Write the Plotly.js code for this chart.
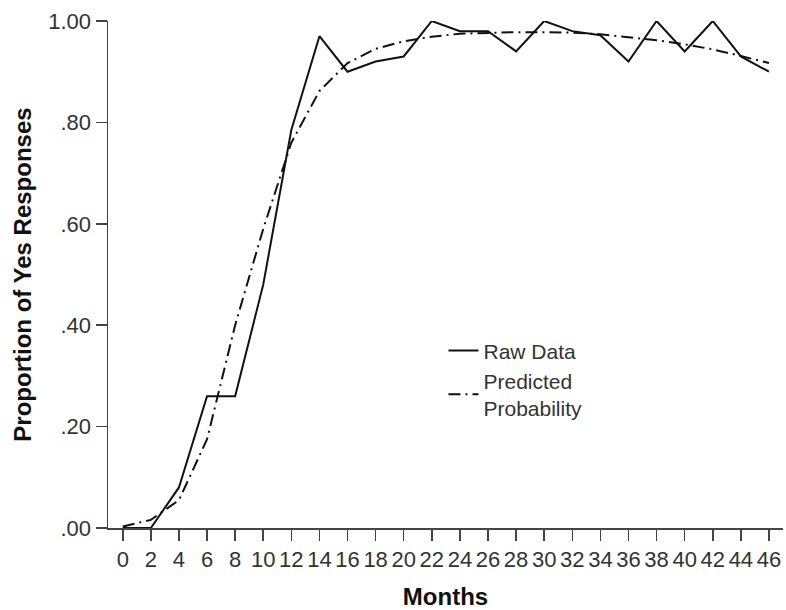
<!DOCTYPE html>
<html>
<head>
<meta charset="utf-8">
<script src="https://cdn.plot.ly/plotly-3.0.1.min.js"></script>
<style>html,body{margin:0;padding:0;background:#fff;}#chart{width:786px;height:610px;}</style>
</head>
<body>
<div id="chart"></div>
<script>
var months = [0,2,4,6,8,10,12,14,16,18,20,22,24,26,28,30,32,34,36,38,40,42,44,46];
var rawData = [0.00,0.00,0.08,0.26,0.26,0.48,0.785,0.97,0.90,0.92,0.93,1.00,0.98,0.98,0.94,1.00,0.98,0.972,0.92,1.00,0.94,1.00,0.93,0.90];
var predicted = [0.003,0.016,0.055,0.175,0.40,0.59,0.76,0.862,0.917,0.945,0.960,0.969,0.975,0.977,0.978,0.978,0.977,0.974,0.968,0.962,0.954,0.944,0.931,0.917];
var yTickVals = [0,0.2,0.4,0.6,0.8,1.0];
var yTickText = ['.00','.20','.40','.60','.80','1.00'];
var xTickVals = months;
var xTickText = months.map(String);

var font = 'Liberation Sans, Arial, sans-serif';
var traces = [
  {x: months, y: rawData, name: 'Raw Data', mode: 'lines', type: 'scatter',
   line: {color: '#111', width: 2}, cliponaxis: false},
  {x: months, y: predicted, name: 'Predicted<br>Probability', mode: 'lines', type: 'scatter',
   line: {color: '#111', width: 2, dash: '12px,5px,2px,5px'}, cliponaxis: false}
];
var layout = {
  width: 786, height: 610,
  margin: {l: 108, r: 3, t: 21, b: 82},
  paper_bgcolor: '#fff', plot_bgcolor: '#fff',
  showlegend: true,
  legend: {x: 0.497, y: 0.39, xanchor: 'left', yanchor: 'top',
    font: {family: font, size: 21, color: '#333'}, bgcolor: 'rgba(0,0,0,0)',
    tracegroupgap: 0},
  xaxis: {range: [-1.05, 47], showgrid: false, zeroline: false, showline: true,
    linecolor: '#444', linewidth: 1.5, ticks: 'outside', ticklen: 11, tickwidth: 1.5,
    tickcolor: '#444', tickvals: xTickVals, ticktext: xTickText,
    tickfont: {family: font, size: 22, color: '#333'},
    title: {text: '<b>Months</b>', font: {family: font, size: 24, color: '#111'}, standoff: 18},
    automargin: false},
  yaxis: {range: [0, 1], showgrid: false, zeroline: false, showline: true,
    linecolor: '#444', linewidth: 1.5, ticks: 'outside', ticklen: 11, tickwidth: 1.5,
    tickcolor: '#444', tickvals: yTickVals, ticktext: yTickText,
    tickfont: {family: font, size: 22, color: '#333'},
    title: {text: '<b>Proportion of Yes Responses</b>', font: {family: font, size: 24, color: '#111'}, standoff: 10},
    automargin: false}
};
Plotly.newPlot('chart', traces, layout, {displayModeBar: false, staticPlot: true});
</script>
</body>
</html>
